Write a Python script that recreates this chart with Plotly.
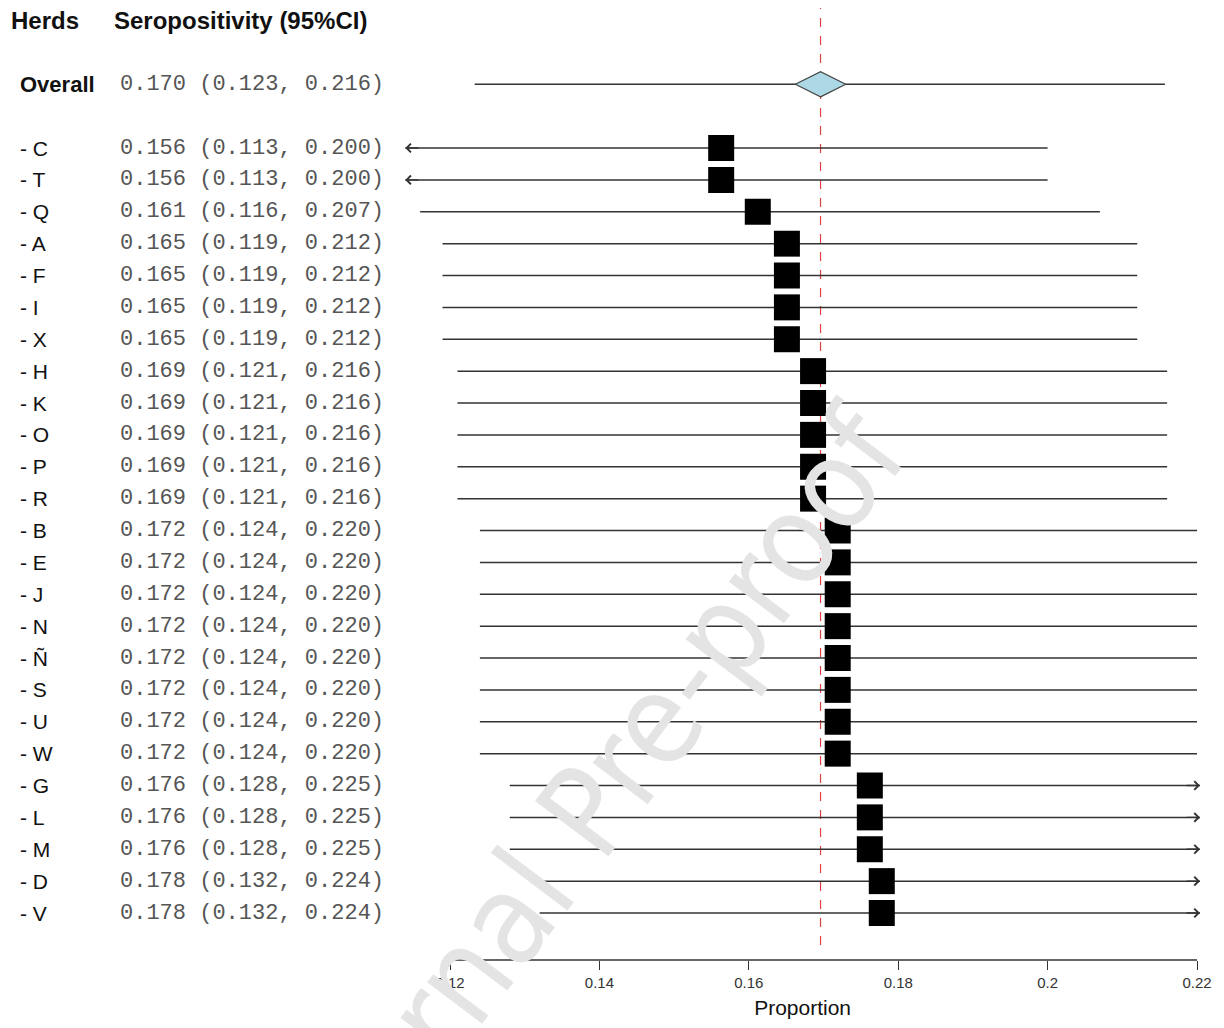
import plotly.graph_objects as go

# ---------------- data ----------------
herds = ["C", "T", "Q", "A", "F", "I", "X", "H", "K", "O", "P", "R",
         "B", "E", "J", "N", "Ñ", "S", "U", "W", "G", "L", "M", "D", "V"]
est = [0.1563, 0.1563, 0.1612, 0.1651, 0.1651, 0.1651, 0.1651,
       0.1686, 0.1686, 0.1686, 0.1686, 0.1686,
       0.1719, 0.1719, 0.1719, 0.1719, 0.1719, 0.1719, 0.1719, 0.1719,
       0.1762, 0.1762, 0.1762, 0.1778, 0.1778]
lower = [0.113, 0.113, 0.116, 0.119, 0.119, 0.119, 0.119,
         0.121, 0.121, 0.121, 0.121, 0.121,
         0.124, 0.124, 0.124, 0.124, 0.124, 0.124, 0.124, 0.124,
         0.128, 0.128, 0.128, 0.132, 0.132]
upper = [0.200, 0.200, 0.207, 0.212, 0.212, 0.212, 0.212,
         0.216, 0.216, 0.216, 0.216, 0.216,
         0.220, 0.220, 0.220, 0.220, 0.220, 0.220, 0.220, 0.220,
         0.225, 0.225, 0.225, 0.224, 0.224]
overall_est = 0.1696
overall_lower = 0.1233
overall_upper = 0.2157
tick_vals = [0.12, 0.14, 0.16, 0.18, 0.20, 0.22]
tick_text = ["0.12", "0.14", "0.16", "0.18", "0.2", "0.22"]

# ---------------- layout constants ----------------
OFF = 8                      # page body margin
W, H = 1224 - OFF, 1028 - OFF
XMIN, XMAX = 0.114, 0.2204
MB = 68
PLOT_H = H - MB
ROW0_PX, ROW_STEP = 148 - OFF, 31.875
y_top = (0 - ROW0_PX) / ROW_STEP
y_bot = (PLOT_H - ROW0_PX) / ROW_STEP
OVERALL_ROW = -2
HEADER_ROW = -4

rows = list(range(len(herds)))
LINE_COL = "#333333"

fig = go.Figure()

# CI lines (clipped to the visible range)
xs, ys = [], []
for r, lo, hi in zip(rows, lower, upper):
    xs += [max(lo, XMIN), min(hi, XMAX), None]
    ys += [r, r, None]
xs += [overall_lower, overall_upper, None]
ys += [OVERALL_ROW, OVERALL_ROW, None]
fig.add_trace(go.Scatter(x=xs, y=ys, mode="lines",
                         line=dict(color=LINE_COL, width=1.5),
                         hoverinfo="skip", showlegend=False))

# point estimates
fig.add_trace(go.Scatter(x=est, y=rows, mode="markers",
                         marker=dict(symbol="square", size=26, color="black",
                                     line=dict(width=0)),
                         showlegend=False))

# overall diamond
fig.add_trace(go.Scatter(x=[overall_est], y=[OVERALL_ROW], mode="markers",
                         marker=dict(symbol="diamond-wide", size=36,
                                     color="#ADD8E6",
                                     line=dict(color="#444444", width=1.2)),
                         showlegend=False))

annotations = []
# arrows for clipped intervals
for r, lo, hi in zip(rows, lower, upper):
    if lo < XMIN:
        annotations.append(dict(x=XMIN, y=r, ax=XMIN + 0.002, ay=r,
                                xref="x", yref="y", axref="x", ayref="y",
                                text="", showarrow=True, arrowhead=4,
                                arrowsize=1.3, arrowwidth=1.3,
                                arrowcolor=LINE_COL, standoff=0))
    if hi > XMAX:
        annotations.append(dict(x=XMAX, y=r, ax=XMAX - 0.002, ay=r,
                                xref="x", yref="y", axref="x", ayref="y",
                                text="", showarrow=True, arrowhead=4,
                                arrowsize=1.3, arrowwidth=1.3,
                                arrowcolor=LINE_COL, standoff=0))

LAB_X = (18 - OFF) / W
VAL_X = (118 - OFF) / W
sans = "Liberation Sans, Arial, sans-serif"
narrow = "Liberation Sans Narrow, Arial Narrow, DejaVu Sans Condensed, sans-serif"
mono = "Liberation Mono, Courier New, monospace"

# headers
annotations.append(dict(x=(9 - OFF) / W, y=HEADER_ROW, xref="paper", yref="y",
                        text="<b>Herds</b>", showarrow=False, xanchor="left",
                        font=dict(family=sans, size=24, color="#111111")))
annotations.append(dict(x=(112 - OFF) / W, y=HEADER_ROW, xref="paper", yref="y",
                        text="<b>Seropositivity (95%CI)</b>", showarrow=False,
                        xanchor="left",
                        font=dict(family=sans, size=24, color="#111111")))
# overall row
annotations.append(dict(x=LAB_X, y=OVERALL_ROW, xref="paper", yref="y",
                        text="<b>Overall</b>", showarrow=False, xanchor="left",
                        font=dict(family=sans, size=22, color="#111111")))
annotations.append(dict(x=VAL_X, y=OVERALL_ROW, xref="paper", yref="y",
                        text=f"{round(overall_est, 3):.3f} ({overall_lower:.3f}, {round(overall_upper, 3):.3f})",
                        showarrow=False, xanchor="left",
                        font=dict(family=mono, size=22, color="#555555")))
# herd rows
for r, h, e, lo, hi in zip(rows, herds, est, lower, upper):
    annotations.append(dict(x=LAB_X, y=r, xref="paper", yref="y",
                            text=f"- {h}", showarrow=False, xanchor="left",
                            font=dict(family=sans, size=21, color="#111111")))
    annotations.append(dict(x=VAL_X, y=r, xref="paper", yref="y",
                            text=f"{round(e, 3):.3f} ({lo:.3f}, {hi:.3f})",
                            showarrow=False, xanchor="left",
                            font=dict(family=mono, size=22, color="#555555")))

# watermark
annotations.append(dict(x=(592 - OFF) / W, y=(PLOT_H - (805 - OFF)) / PLOT_H,
                        xref="paper", yref="paper", text="Journal Pre-proof",
                        showarrow=False, textangle=-53,
                        xanchor="center", yanchor="middle",
                        font=dict(family=narrow, size=126, color="#E4E4E4")))

shapes = [
    # reference line at overall estimate
    dict(type="line", xref="x", yref="paper", x0=overall_est, x1=overall_est,
         y0=(PLOT_H - (945 - OFF)) / PLOT_H, y1=1,
         line=dict(color="#E04040", width=1.2, dash="dash"), layer="below"),
    # axis line between first and last tick
    dict(type="line", xref="x", yref="paper", x0=tick_vals[0], x1=tick_vals[-1],
         y0=0, y1=0, line=dict(color=LINE_COL, width=1.5)),
]

fig.update_layout(
    width=W, height=H,
    margin=dict(l=0, r=0, t=0, b=MB, autoexpand=False),
    paper_bgcolor="white", plot_bgcolor="white",
    showlegend=False,
    xaxis=dict(domain=[(405.2 - OFF) / W, (1200 - OFF) / W], range=[XMIN, XMAX],
               showgrid=False, zeroline=False, showline=False,
               tickmode="array", tickvals=tick_vals, ticktext=tick_text,
               ticks="outside", ticklen=9, tickwidth=1.2, tickcolor=LINE_COL,
               tickfont=dict(family=sans, size=15, color="#333333"),
               title=dict(text="Proportion", standoff=10,
                          font=dict(family=sans, size=21, color="#111111"))),
    yaxis=dict(range=[y_bot, y_top], visible=False, showgrid=False,
               zeroline=False),
    annotations=annotations,
    shapes=shapes,
)

fig.write_html("out.html")
